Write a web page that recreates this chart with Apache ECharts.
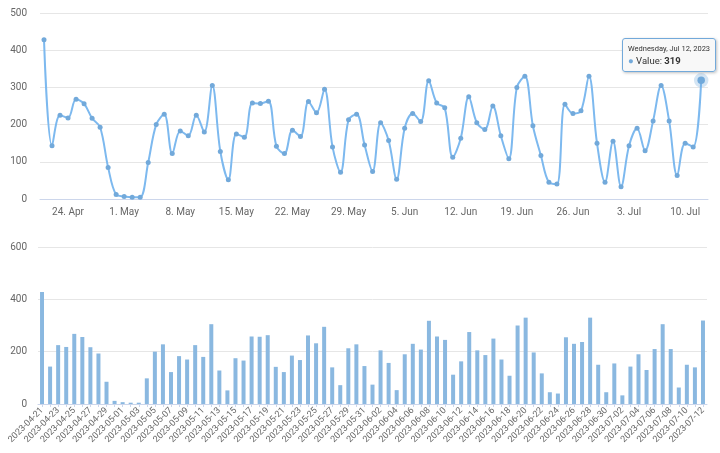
<!DOCTYPE html>
<html>
<head>
<meta charset="utf-8">
<script src="https://cdn.jsdelivr.net/npm/echarts@6/dist/echarts.min.js"></script>
<style>
html,body{margin:0;padding:0;background:#fff;}
#main{width:720px;height:453px;}
</style>
</head>
<body>
<div id="main"></div>
<script>
var dates = [
'2023-04-21','2023-04-22','2023-04-23','2023-04-24','2023-04-25','2023-04-26','2023-04-27','2023-04-28','2023-04-29','2023-04-30',
'2023-05-01','2023-05-02','2023-05-03','2023-05-04','2023-05-05','2023-05-06','2023-05-07','2023-05-08','2023-05-09','2023-05-10',
'2023-05-11','2023-05-12','2023-05-13','2023-05-14','2023-05-15','2023-05-16','2023-05-17','2023-05-18','2023-05-19','2023-05-20',
'2023-05-21','2023-05-22','2023-05-23','2023-05-24','2023-05-25','2023-05-26','2023-05-27','2023-05-28','2023-05-29','2023-05-30',
'2023-05-31','2023-06-01','2023-06-02','2023-06-03','2023-06-04','2023-06-05','2023-06-06','2023-06-07','2023-06-08','2023-06-09',
'2023-06-10','2023-06-11','2023-06-12','2023-06-13','2023-06-14','2023-06-15','2023-06-16','2023-06-17','2023-06-18','2023-06-19',
'2023-06-20','2023-06-21','2023-06-22','2023-06-23','2023-06-24','2023-06-25','2023-06-26','2023-06-27','2023-06-28','2023-06-29',
'2023-06-30','2023-07-01','2023-07-02','2023-07-03','2023-07-04','2023-07-05','2023-07-06','2023-07-07','2023-07-08','2023-07-09',
'2023-07-10','2023-07-11','2023-07-12'
];
var values = [
428,143,225,218,268,256,217,193,85,12,
7,5,5,98,200,228,122,183,170,225,
180,305,128,52,175,166,258,257,263,142,
122,185,168,262,232,295,140,72,213,228,
145,74,205,157,53,190,230,208,318,258,
245,112,163,275,205,187,250,170,108,300,
330,197,117,45,40,255,230,237,330,150,
45,155,33,143,190,130,210,305,210,63,
150,140,319
];
var topTickDates = ['2023-04-24','2023-05-01','2023-05-08','2023-05-15','2023-05-22','2023-05-29','2023-06-05','2023-06-12','2023-06-19','2023-06-26','2023-07-03','2023-07-10'];

var MONTHS = ['Jan','Feb','Mar','Apr','May','Jun','Jul','Aug','Sep','Oct','Nov','Dec'];
var DAYS = ['Sunday','Monday','Tuesday','Wednesday','Thursday','Friday','Saturday'];
function ts(s){ var p = s.split('-'); return Date.UTC(+p[0], +p[1]-1, +p[2]); }
var DAY = 86400000;

var lineColor = '#72a9da';
var barColor = '#8ab8e0';
var font = 'Roboto, "Noto Sans", sans-serif';

var chart = echarts.init(document.getElementById('main'), null, {renderer:'canvas'});
var option = {
  animation: false,
  textStyle: {fontFamily: font},
  grid: [
    {left: 40, right: 12, top: 13, bottom: 254},
    {left: 38, right: 13, top: 247, bottom: 49}
  ],
  tooltip: {
    trigger: 'item',
    triggerOn: 'none',
    alwaysShowContent: true,
    transitionDuration: 0,
    confine: false,
    backgroundColor: 'rgba(247,247,247,0.92)',
    borderColor: lineColor,
    borderWidth: 1,
    padding: [5, 5, 4, 5],
    extraCssText: 'box-shadow:1px 1px 3px rgba(0,0,0,0.25);border-radius:3px;',
    textStyle: {fontFamily: font, color: '#333'},
    position: function (p) { return [p[0] - 79, p[1] - 42]; },
    formatter: function (params) {
      var d = new Date(params.value[0]);
      var head = DAYS[d.getUTCDay()] + ', ' + MONTHS[d.getUTCMonth()] + ' ' + d.getUTCDate() + ', ' + d.getUTCFullYear();
      return '<div style="font-size:7.5px;color:#333;line-height:10px;white-space:nowrap;">' + head + '</div>' +
        '<div style="font-size:9.5px;color:#333;line-height:13px;white-space:nowrap;"><span style="color:' + lineColor + '">\u25CF</span> Value: <b>' + params.value[1] + '</b></div>';
    }
  },
  xAxis: [
    {
      type: 'value', gridIndex: 0,
      min: ts(dates[0]) - 0.5 * DAY,
      max: ts(dates[dates.length - 1]) + 0.85 * DAY,
      axisLine: {show: true, lineStyle: {color: '#ccd6eb'}},
      axisTick: {show: false},
      splitLine: {show: false},
      axisLabel: {
        customValues: topTickDates.map(ts),
        color: '#666', fontSize: 10, margin: 8,
        formatter: function (v) { var d = new Date(v); return d.getUTCDate() + '. ' + MONTHS[d.getUTCMonth()]; }
      }
    },
    {
      type: 'category', gridIndex: 1, data: dates,
      boundaryGap: true,
      axisLine: {show: true, lineStyle: {color: '#ccd6eb'}},
      axisTick: {show: true, alignWithLabel: true, interval: 0, length: 3, lineStyle: {color: '#ccd6eb'}},
      axisLabel: {interval: 1, rotate: 45, color: '#666', fontSize: 9, margin: 5}
    }
  ],
  yAxis: [
    {
      type: 'value', gridIndex: 0, min: 0, max: 500, interval: 100,
      axisLine: {show: false}, axisTick: {show: false},
      splitLine: {lineStyle: {color: '#e6e6e6'}},
      axisLabel: {color: '#666', fontSize: 10, margin: 13}
    },
    {
      type: 'value', gridIndex: 1, min: 0, max: 600, interval: 200,
      axisLine: {show: false}, axisTick: {show: false},
      splitLine: {lineStyle: {color: '#e6e6e6'}},
      axisLabel: {color: '#666', fontSize: 10, margin: 11}
    }
  ],
  series: [
    {
      type: 'line', xAxisIndex: 0, yAxisIndex: 0,
      data: dates.map(function (d, i) { return [ts(d), values[i]]; }),
      smooth: 0.35,
      symbol: 'circle', symbolSize: 5,
      lineStyle: {color: lineColor, width: 2},
      itemStyle: {color: lineColor},
      emphasis: {
        scale: 1.5,
        itemStyle: {color: lineColor, borderColor: 'rgba(114,169,218,0.3)', borderWidth: 7},
        lineStyle: {width: 2}
      }
    },
    {
      type: 'bar', xAxisIndex: 1, yAxisIndex: 1,
      data: values,
      barWidth: 4,
      itemStyle: {color: barColor},
      emphasis: {disabled: true}
    }
  ]
};
chart.setOption(option);
chart.dispatchAction({type: 'highlight', seriesIndex: 0, dataIndex: values.length - 1});
chart.dispatchAction({type: 'showTip', seriesIndex: 0, dataIndex: values.length - 1});
</script>
</body>
</html>
